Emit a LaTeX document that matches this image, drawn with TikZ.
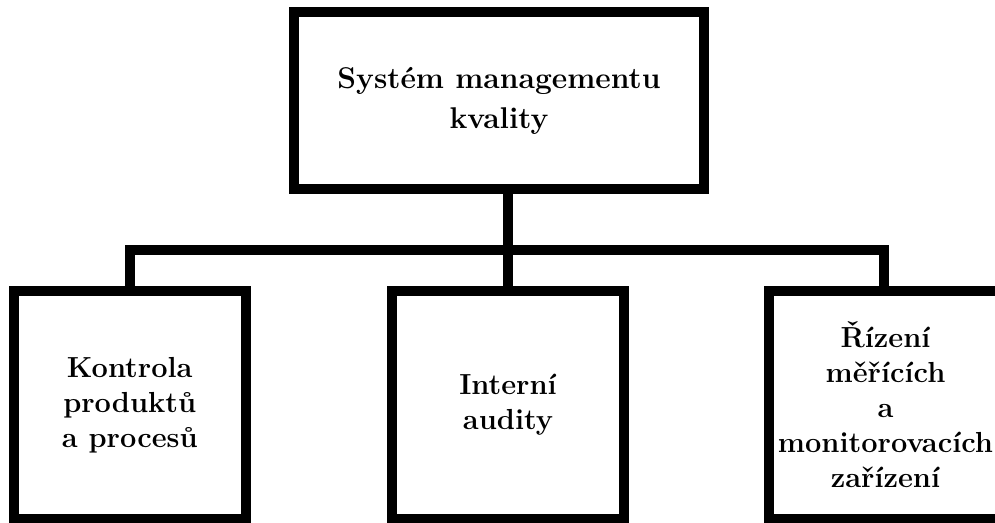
\documentclass[tikz,border=0pt]{standalone}
\usepackage{fontspec}
\begin{document}
\begin{tikzpicture}[x=1pt,y=-1pt,
  box/.style={draw=black, line width=10pt, fill=white, inner sep=0pt,
    align=center, font=\bfseries\fontsize{29}{35}\selectfont,
    line join=miter},
  link/.style={draw=black, line width=10pt, line join=miter}]
  \useasboundingbox (0,0) rectangle (995,522);
  \clip (0,0) rectangle (995,522);
  \fill[white] (0,0) rectangle (995,522);

  % bar that the branches hang from
  \coordinate (barleft) at (129.5,249.5);
  \coordinate (barright) at (883.5,249.5);

  % top box
  \node[box, minimum width=410pt, minimum height=177pt,
        font=\bfseries\fontsize{30}{40}\selectfont] (qms) at (499,100.5)
    {Systém managementu\\kvality};

  % three subordinate boxes
  \node[box, minimum width=232.5pt, minimum height=228pt] (prod) at (129.75,405)
    {Kontrola\\produktů\\a procesů};
  \node[box, minimum width=232pt, minimum height=228pt] (audit) at (508,405)
    {Interní\\audity};
  \node[box, minimum width=233pt, minimum height=228pt] (meas) at (885.5,405)
    {Řízení\\měřících\\a\\monitorovacích\\zařízení};

  % tree connectors
  \draw[link] (qms.south -| audit.north) -- (audit.north);
  \draw[link] (prod.north -| barleft) -- (barleft) -- (barright) -- (meas.north -| barright);
\end{tikzpicture}
\end{document}
